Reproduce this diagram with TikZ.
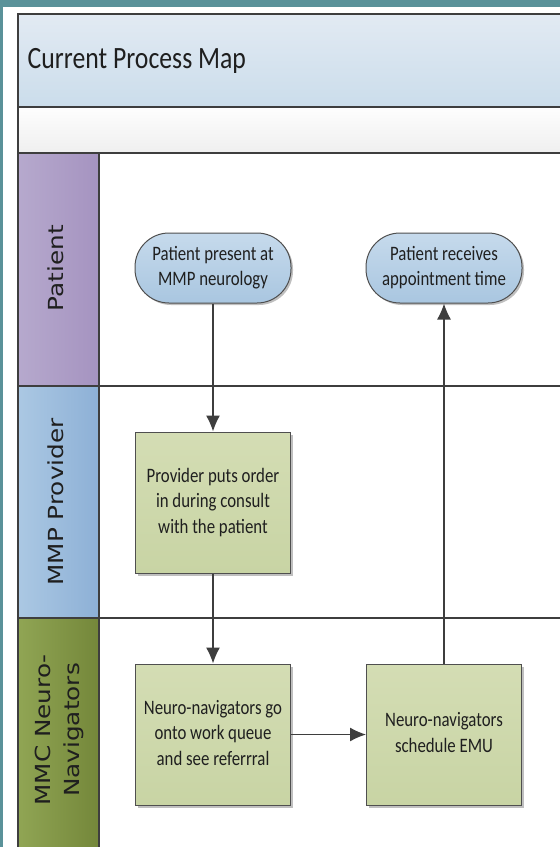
\documentclass[tikz,border=0pt]{standalone}
\usepackage{fontspec}
\setmainfont{Carlito}
\newfontfamily\lanefont{DejaVu Sans}
\usetikzlibrary{arrows.meta,shadows}
\definecolor{frameteal}{HTML}{5A9299}
\definecolor{hdrtop}{HTML}{E2EAF3}
\definecolor{hdrbot}{HTML}{CBDDEB}
\definecolor{bandtop}{HTML}{FEFEFE}
\definecolor{bandbot}{HTML}{EFEFEF}
\definecolor{patL}{HTML}{B6A9CD}
\definecolor{patR}{HTML}{A593C0}
\definecolor{provL}{HTML}{ABC8E3}
\definecolor{provR}{HTML}{8DB0D6}
\definecolor{mmcL}{HTML}{90A554}
\definecolor{mmcR}{HTML}{74873A}
\definecolor{termtop}{HTML}{C6DAEC}
\definecolor{termbot}{HTML}{A9C6E0}
\definecolor{proctop}{HTML}{D4DDB4}
\definecolor{procbot}{HTML}{C8D4A4}
\definecolor{edgegray}{HTML}{4F4F4F}
\definecolor{linegray}{HTML}{3E3E3E}
\definecolor{txtdark}{HTML}{1F1F1F}
\newcommand\bxtxt[1]{\scalebox{0.82}[1]{\begin{tabular}{@{}c@{}}#1\end{tabular}}}
\newcommand\lanetxt[1]{\scalebox{1}[0.84]{\begin{tabular}{@{}c@{}}#1\end{tabular}}}
\tikzset{
  laneline/.style={draw=linegray, line width=1.5pt},
  lanelbl/.style={rotate=90, inner sep=0pt, text=txtdark,
    font=\lanefont\fontsize{24.7}{35}\selectfont},
  boxfont/.style={text=txtdark, font=\fontsize{20.5}{25.5}\selectfont, inner sep=0pt},
  termbox/.style={boxfont, draw=edgegray, line width=1pt, rounded corners=34pt,
    top color=termtop, bottom color=termbot, minimum width=156pt, minimum height=70pt,
    drop shadow={shadow xshift=2pt, shadow yshift=-2pt, opacity=0.25, fill=black}},
  procbox/.style={boxfont, draw=edgegray, line width=1pt,
    top color=proctop, bottom color=procbot, minimum width=155pt, minimum height=141pt,
    drop shadow={shadow xshift=2.5pt, shadow yshift=-2.5pt, opacity=0.25, fill=black}},
  flow/.style={draw=linegray, line width=1.3pt, -{Latex[length=16pt,width=14pt]}}
}
\begin{document}
\begin{tikzpicture}[x=1pt,y=-1pt]
\useasboundingbox (0,0) rectangle (560,847);
\fill[white] (0,0) rectangle (560,847);
\fill[frameteal] (0,0) rectangle (560,7);
\fill[frameteal] (0,0) rectangle (2.5,847);
% header and band
\shade[top color=hdrtop, bottom color=hdrbot] (18,14) rectangle (562,107);
\shade[top color=bandtop, bottom color=bandbot] (18,107) rectangle (562,153);
% lane label columns
\shade[left color=patL, right color=patR] (18,153) rectangle (99,386);
\shade[left color=provL, right color=provR] (18,386) rectangle (99,618);
\shade[left color=mmcL, right color=mmcR] (18,618) rectangle (99,849);
% lane lines
\draw[laneline] (18,849) -- (18,14) -- (562,14);
\foreach \yy in {107,153,386,618} { \draw[laneline] (18,\yy) -- (562,\yy); }
\draw[laneline] (99,153) -- (99,849);
% title
\node[anchor=base west, inner sep=0pt, text=txtdark, font=\fontsize{31}{31}\selectfont] (title) at (27.5,68) {\scalebox{0.83}[1]{Current Process Map}};
% lane labels
\node[lanelbl] (lpat) at (58,268) {\lanetxt{Patient}};
\node[lanelbl] (lprov) at (58,502) {\lanetxt{MMP Provider}};
\node[lanelbl] (lmmc) at (59,730) {\lanetxt{MMC Neuro-\\Navigators}};
% nodes
\node[termbox] (pp) at (213,268) {\bxtxt{Patient present at\\MMP neurology}};
\node[termbox] (pr) at (444,268) {\bxtxt{Patient receives\\appointment time}};
\node[procbox] (prov) at (213,502.5) {\bxtxt{Provider puts order\\in during consult\\with the patient}};
\node[procbox] (nn1) at (213,734.5) {\bxtxt{Neuro-navigators go\\onto work queue\\and see referrral}};
\node[procbox] (nn2) at (444,734.5) {\bxtxt{Neuro-navigators\\schedule EMU}};
% connectors
\draw[flow] (pp) -- (prov);
\draw[flow] (prov) -- (nn1);
\draw[flow] (nn1) -- (nn2);
\draw[flow] (nn2) -- (pr);
\end{tikzpicture}
\end{document}
